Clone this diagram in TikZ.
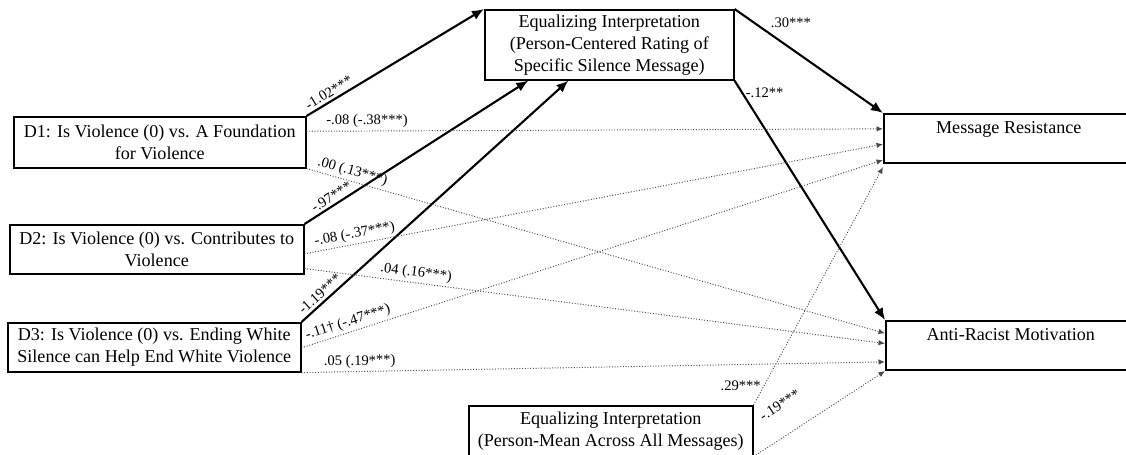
\documentclass[tikz,border=0pt]{standalone}
\usepackage{fontspec}
\setmainfont{Liberation Serif}
\usetikzlibrary{arrows.meta,calc}
\definecolor{PathGrey}{HTML}{4A4A4A}
\tikzset{
  varbox/.style={draw=black,line width=0.9pt,align=center,inner sep=2pt,font=\fontsize{10.3}{12.5}\selectfont},
  predbox/.style={varbox,anchor=north west,minimum height=0.98cm},
  outbox/.style={varbox,anchor=north west,minimum width=5cm,minimum height=0.99cm},
  sigpath/.style={-{Latex[length=2.4mm,width=2mm]},line width=1.2pt,draw=black},
  nspath/.style={-{Latex[length=1.3mm,width=1.1mm]},line width=0.55pt,densely dotted,draw=PathGrey},
  coef/.style={font=\fontsize{8.3}{10}\selectfont,inner sep=1.5pt}
}
\begin{document}
\begin{tikzpicture}[x=0.02cm,y=-0.02cm]
\useasboundingbox (0,0) rectangle (1126,454);
% predictors
\node[predbox,minimum width=5.84cm,minimum height=1.02cm] (d1) at (13,116) {D1: Is Violence (0) vs. A Foundation\\for Violence};
\node[predbox,minimum width=5.88cm] (d2) at (9,224) {D2: Is Violence (0) vs. Contributes to\\Violence};
\node[predbox,minimum width=5.86cm] (d3) at (7,322) {D3: Is Violence (0) vs. Ending White\\Silence can Help End White Violence};
% mediators
\node[varbox,anchor=north west,minimum width=4.98cm,minimum height=1.4cm] (eispec) at (484,9) {Equalizing Interpretation\\(Person-Centered Rating of\\Specific Silence Message)};
\node[varbox,anchor=north west,minimum width=5.68cm,minimum height=1.0cm] (eimean) at (468,405) {Equalizing Interpretation\\(Person-Mean Across All Messages)};
% outcomes
\node[outbox] (resist) at (883,113) {Message Resistance\\\mbox{}};
\node[outbox] (motiv) at (885,320) {Anti-Racist Motivation\\\mbox{}};

% a paths
\draw[sigpath] (d1.north east) -- node[coef,pos=0.15,above,sloped] {-1.02***} (eispec.north west);
\draw[sigpath] (d2.north east) -- node[coef,pos=0.14,above,sloped] {-.97***} ($(eispec.south west)!0.177!(eispec.south east)$);
\draw[sigpath] (d3.north east) -- node[coef,pos=0.09,above,sloped] {-1.19***} ($(eispec.south west)!0.337!(eispec.south east)$);
% b paths
\draw[sigpath] (eispec.north east) -- node[coef,pos=0.22,above right] {.30***} (resist.north west);
\draw[sigpath] (eispec.south east) -- node[coef,pos=0.05,right] {-.12**} (motiv.north west);
\draw[nspath] (eimean.north east) -- node[coef,pos=0.08,left] {.29***} ($(resist.south west)+(0,3)$);
\draw[nspath] (eimean.south east) -- node[coef,pos=0.32,above=12pt,sloped] {-.19***} (motiv.south west);

% direct (total) paths
\draw[nspath] ($(d1.north east)!0.29!(d1.south east)$) -- node[coef,pos=0.105,above] {-.08 (-.38***)} ($(resist.north west)!0.31!(resist.south west)$);
\draw[nspath] (d1.south east) -- node[coef,pos=0.075,above,sloped] {.00 (.13***)} ($(motiv.north west)!0.26!(motiv.south west)$);
\draw[nspath] ($(d2.north east)!0.59!(d2.south east)$) -- node[coef,pos=0.09,above,sloped] {-.08 (-.37***)} ($(resist.north west)!0.61!(resist.south west)$);
\draw[nspath] ($(d2.north east)!0.88!(d2.south east)$) -- node[coef,pos=0.19,above,sloped] {.04 (.16***)} ($(motiv.north west)!0.46!(motiv.south west)$);
\draw[nspath] ($(d3.north east)!0.51!(d3.south east)$) -- node[coef,pos=0.085,above,sloped] {-.11† (-.47***)} ($(resist.north west)!0.92!(resist.south west)$);
\draw[nspath] (d3.south east) -- node[coef,pos=0.1,above,sloped] {.05 (.19***)} ($(motiv.north west)!0.82!(motiv.south west)$);
\end{tikzpicture}
\end{document}
